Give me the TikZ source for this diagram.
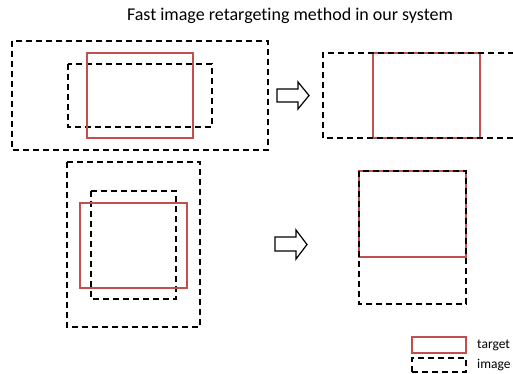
\documentclass[tikz,border=0pt]{standalone}
\usepackage{fontspec}
\setmainfont[Ligatures=NoCommon]{Carlito}
\definecolor{tred}{RGB}{192,80,77}
\tikzset{
  imgbox/.style={draw=black, line width=1.9pt, dash pattern=on 6pt off 4pt},
  tgtbox/.style={draw=tred, line width=1.5pt},
  blockarrow/.style={draw=black, line width=1.2pt, fill=white, line join=miter},
  legtext/.style={font=\fontsize{13.5}{15}\selectfont, anchor=base west, inner sep=0pt},
}
\begin{document}
\begin{tikzpicture}[x=1pt,y=-1pt]
\useasboundingbox (0,0) rectangle (513,374);
% title
\node[font=\fontsize{18}{20}\selectfont, anchor=base, inner sep=0pt] (title) at (290,21) {Fast image retargeting method in our system};
% top-left
\draw[imgbox] (12,41) rectangle (268,150);
\draw[imgbox] (68,64) rectangle (212,127);
\draw[tgtbox] (87,53) rectangle (193,138);
% top arrow
\draw[blockarrow] (277,89) -- (298,89) -- (298,82) -- (309,95.5) -- (298,109) -- (298,102) -- (277,102) -- cycle;
% top-right
\draw[tgtbox] (373,53) rectangle (480,138);
\draw[imgbox] (514,53) -- (323,53) -- (323,138) -- (514,138);
% bottom-left
\draw[imgbox] (67,162) rectangle (200,327);
\draw[imgbox] (91,191) rectangle (176,299);
\draw[tgtbox] (80,203) rectangle (187,288);
% bottom arrow
\draw[blockarrow] (275,237) -- (296,237) -- (296,230) -- (307,244.5) -- (296,259) -- (296,251) -- (275,251) -- cycle;
% bottom-right
\draw[tgtbox] (359,171) rectangle (466,257);
\draw[imgbox] (359,171) rectangle (466,304);
% legend
\draw[tgtbox] (412,337) rectangle (466,353);
\draw[imgbox] (412,372) -- (412,358) -- (466,358) -- (466,372) -- cycle;
\node[legtext] (ltarget) at (477,348) {target};
\node[legtext] (limage) at (477,368) {image};
\end{tikzpicture}
\end{document}
